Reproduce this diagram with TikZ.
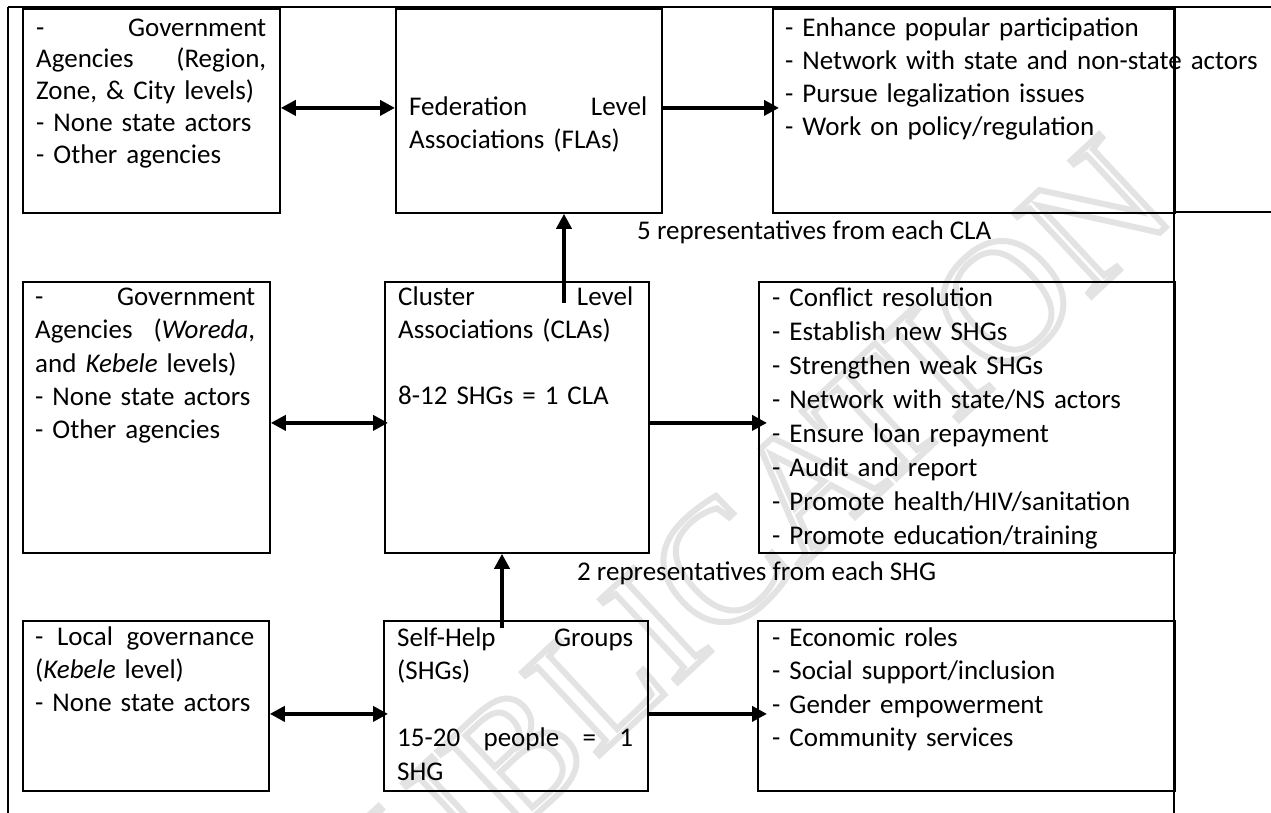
\documentclass[tikz,border=0pt]{standalone}
\usepackage{fontspec}
\setmainfont{Carlito}
\newfontfamily\wmfont{Liberation Serif}
\usetikzlibrary{arrows.meta}
\newcommand{\mystrut}{\rule{0pt}{24pt}}
\newcommand{\outlineon}{\special{pdf:literal direct 1 Tr 6 w}}
\newcommand{\outlineoff}{\special{pdf:literal direct 0 Tr}}
\begin{document}
\begin{tikzpicture}[x=1pt,y=-1pt,
  box/.style={draw, line width=1.8pt, inner sep=0pt, anchor=north west, rectangle},
  txt/.style={anchor=north west, inner sep=0pt, align=left, font=\fontsize{27}{33}\selectfont},
  lbl/.style={anchor=base west, inner sep=0pt, font=\fontsize{27}{33}\selectfont},
  tip/.tip={Triangle[length=15pt,width=15pt]},
  arr/.style={line width=4pt, -tip},
  dbl/.style={line width=4pt, tip-tip}]
\useasboundingbox (0,0) rectangle (1271,813);

% watermark
\node[rotate=43, inner sep=0pt, text=gray!22, font=\wmfont\fontsize{173}{173}\selectfont] (wm) at (726,560) {\outlineon PUBLICATION\outlineoff};

% frame lines
\draw[line width=2.7pt] (8,7) -- (1174,7);
\draw[line width=1.8pt] (1174,7) -- (1271,7);
\draw[line width=1.3pt] (8,7) -- (8,813);
\draw[line width=1.8pt] (1174,7) -- (1174,813);
\draw[line width=1.8pt] (1174,212) -- (1271,212);

% boxes
\node[box, minimum width=257pt, minimum height=204pt] (a1) at (22,8) {};
\node[box, minimum width=266pt, minimum height=204pt] (b1) at (395,8) {};
\node[box, minimum width=402pt, minimum height=204pt] (c1) at (772,8) {};
\node[box, minimum width=247pt, minimum height=271pt] (a2) at (22,281) {};
\node[box, minimum width=264pt, minimum height=271pt] (b2) at (384,281) {};
\node[box, minimum width=416pt, minimum height=271pt] (c2) at (758,281) {};
\node[box, minimum width=246pt, minimum height=170pt] (a3) at (22,620) {};
\node[box, minimum width=264pt, minimum height=170pt] (b3) at (383,620) {};
\node[box, minimum width=417pt, minimum height=170pt] (c3) at (757,620) {};

% texts
\node[txt, text width=230pt, font=\fontsize{27}{31.8}\selectfont] (a1t) at (36,12)
  {\mystrut-\hfill Government\\Agencies\hfill (Region,\\Zone, \& City levels)\\- None state actors\\- Other agencies};
\node[txt, text width=238pt] (b1t) at (409,91)
  {\mystrut Federation\hfill Level\\Associations (FLAs)};
\node[txt, text width=500pt] (c1t) at (785,12)
  {\mystrut- Enhance popular participation\\- Network with state and non-state actors\\- Pursue legalization issues\\- Work on policy/regulation};

\node[txt, text width=220pt, font=\fontsize{27}{33.4}\selectfont] (a2t) at (35,281)
  {\mystrut-\hfill Government\\Agencies\hfill (\textit{Woreda},\\and \textit{Kebele} levels)\\- None state actors\\- Other agencies};
\node[txt, text width=235pt] (b2t) at (398,281)
  {\mystrut Cluster\hfill Level\\Associations (CLAs)\\[33pt]8-12 SHGs = 1 CLA};
\node[txt, text width=500pt, font=\fontsize{27}{34.1}\selectfont] (c2t) at (772,282)
  {\mystrut- Conflict resolution\\- Establish new SHGs\\- Strengthen weak SHGs\\- Network with state/NS actors\\- Ensure loan repayment\\- Audit and report\\- Promote health/HIV/sanitation\\- Promote education/training};

\node[txt, text width=219pt] (a3t) at (35,621)
  {\mystrut-\hfill Local\hfill governance\\(\textit{Kebele} level)\\- None state actors};
\node[txt, text width=236pt, font=\fontsize{27}{33.5}\selectfont] (b3t) at (397,622)
  {\mystrut Self-Help\hfill Groups\\(SHGs)\\[33.5pt]15-20\hfill people\hfill =\hfill 1\\SHG};
\node[txt, text width=500pt, font=\fontsize{27}{33.5}\selectfont] (c3t) at (772,622)
  {\mystrut- Economic roles\\- Social support/inclusion\\- Gender empowerment\\- Community services};

% labels
\node[lbl] (l1) at (637,240) {5 representatives from each CLA};
\node[lbl] (l2) at (577,580) {2 representatives from each SHG};

% horizontal connectors
\draw[dbl] ([yshift=3pt]a1.east) -- ([yshift=3pt]b1.west);
\draw[arr] ([yshift=3pt]b1.east) -- ([xshift=7pt,yshift=3pt]c1.west);
\draw[dbl] ([yshift=-5.5pt]a2.east) -- ([xshift=4pt,yshift=-5.5pt]b2.west);
\draw[arr] ([yshift=-5.5pt]b2.east) -- ([xshift=9pt,yshift=-5.5pt]c2.west);
\draw[dbl] ([yshift=-8pt]a3.east) -- ([xshift=5pt,yshift=-8pt]b3.west);
\draw[arr] ([yshift=-8pt]b3.east) -- ([xshift=10pt,yshift=-8pt]c3.west);

% vertical connectors
\coordinate (s1) at (564,303);
\draw[arr] (s1) -- (s1 |- b1.south);
\coordinate (s2) at (502,628);
\draw[arr] (s2) -- (s2 |- b2.south);
\end{tikzpicture}
\end{document}
